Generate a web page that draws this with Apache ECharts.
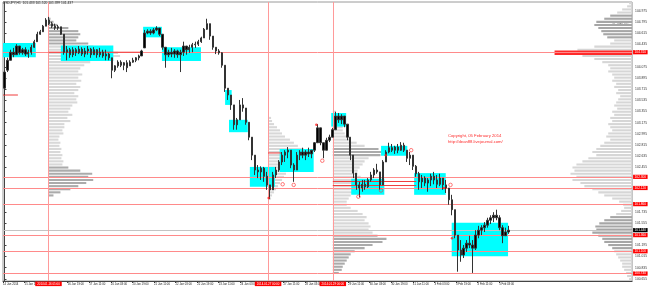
<!DOCTYPE html>
<html><head><meta charset="utf-8">
<script src="https://cdn.jsdelivr.net/npm/echarts@6.0.0/dist/echarts.min.js"></script>
<style>html,body{margin:0;padding:0;background:#fff}#c{width:650px;height:287px}</style>
</head><body><div id="c"></div>
<script>
// ---- candles (open, close, low, high), one bar ~2.2h, USDJPY ----
const week1 = [
[103.73,103.99,103.62,104.02],[104.02,104.18,103.99,104.22],[104.18,104.31,104.18,104.35],[104.31,104.27,104.23,104.38],
[104.27,104.41,104.27,104.44],[104.41,104.30,104.27,104.41],[104.30,104.35,104.27,104.38],[104.35,104.28,104.25,104.39],
[104.28,104.31,104.22,104.35],[104.31,104.39,104.27,104.43],[104.39,104.48,104.38,104.51],[104.48,104.60,104.48,104.64],
[104.60,104.64,104.59,104.67],[104.64,104.73,104.64,104.75],[104.73,104.83,104.73,104.86],[104.83,104.77,104.75,104.88],
[104.77,104.73,104.70,104.80],[104.73,104.70,104.67,104.77],[104.70,104.72,104.67,104.75],[104.72,104.60,104.59,104.72],
[104.60,104.31,104.27,104.60],[104.31,104.35,104.18,104.41],[104.35,104.27,104.22,104.38],[104.27,104.35,104.23,104.39],
[104.35,104.30,104.25,104.38],[104.30,104.36,104.28,104.41],[104.36,104.28,104.25,104.39],[104.28,104.33,104.23,104.38],
[104.33,104.36,104.27,104.41],[104.36,104.27,104.22,104.38],[104.27,104.35,104.27,104.39],[104.35,104.27,104.22,104.36],
[104.27,104.31,104.23,104.38],[104.31,104.25,104.22,104.35],[104.25,104.28,104.18,104.35]
];
const week2 = [
[104.28,104.22,104.18,104.30],[104.22,104.02,103.89,104.22],[104.02,104.09,103.99,104.10],[104.09,104.15,104.06,104.18],
[104.15,104.10,104.07,104.18],[104.10,104.14,104.02,104.15],[104.14,104.06,103.99,104.18],[104.09,104.15,104.09,104.18],
[104.15,104.18,104.14,104.22],[104.18,104.22,104.15,104.23],[104.22,104.25,104.18,104.27],[104.25,104.33,104.25,104.35],
[104.38,104.62,104.38,104.67],[104.62,104.65,104.60,104.68],[104.65,104.62,104.59,104.68],[104.62,104.67,104.60,104.70],
[104.67,104.70,104.65,104.73],[104.70,104.60,104.57,104.70],[104.60,104.39,104.35,104.60],[104.39,104.27,104.06,104.39],
[104.27,104.31,104.23,104.35],[104.31,104.28,104.23,104.38],[104.28,104.33,104.22,104.36],[104.33,104.27,104.22,104.35],
[104.27,104.31,103.99,104.35],[104.31,104.41,104.25,104.48],[104.41,104.35,104.27,104.41],[104.35,104.39,104.30,104.43],
[104.39,104.43,104.31,104.46],[104.43,104.44,104.38,104.48],[104.44,104.48,104.41,104.51],[104.48,104.54,104.46,104.56],
[104.54,104.68,104.54,104.70],[104.68,104.77,104.67,104.85],[104.77,104.57,104.51,104.77],[104.57,104.39,104.35,104.57],
[104.39,104.33,104.28,104.39],[104.33,104.30,104.27,104.36],[104.30,104.10,104.06,104.31],[104.10,103.73,103.67,104.10],
[103.73,103.62,103.54,103.73],[103.62,103.46,103.38,103.62],[103.46,103.14,103.06,103.46],[103.14,103.22,103.06,103.25],
[103.22,103.46,103.22,103.54],[103.46,103.41,103.35,103.57],[103.41,103.18,103.14,103.41],[103.18,102.94,102.89,103.18],
[102.94,102.65,102.57,102.94],[102.65,102.41,102.33,102.65],[102.41,102.38,102.28,102.49],[102.38,102.44,102.25,102.47],
[102.44,102.31,102.22,102.46],[102.31,102.17,102.09,102.38]
];
const week3 = [
[102.17,102.09,101.94,102.17],[102.09,102.33,102.09,102.38],[102.33,102.41,102.28,102.46],[102.41,102.54,102.38,102.57],
[102.54,102.65,102.49,102.70],[102.65,102.70,102.54,102.73],[102.70,102.73,102.60,102.78],[102.73,102.49,102.44,102.73],
[102.49,102.41,102.22,102.52],[102.41,102.65,102.41,102.70],[102.65,102.70,102.57,102.73],[102.70,102.65,102.60,102.77],
[102.65,102.70,102.57,102.73],[102.70,102.67,102.62,102.77],[102.67,102.73,102.60,102.73],[102.73,102.85,102.70,102.86],
[102.85,103.09,102.85,103.15],[103.09,102.85,102.81,103.09],[102.85,102.73,102.60,102.85],[102.73,102.89,102.73,102.93],
[102.89,102.94,102.86,102.98],[102.94,103.06,102.94,103.09],[103.06,103.28,103.06,103.35],[103.28,103.22,103.17,103.33],
[103.22,103.28,103.15,103.31],[103.28,103.15,103.10,103.28],[103.15,102.94,102.89,103.15],[102.94,102.65,102.57,102.94],
[102.65,102.36,102.28,102.65],[102.36,102.17,102.09,102.36],[102.17,102.12,101.97,102.22],[102.12,102.18,102.06,102.25],
[102.18,102.14,102.09,102.25],[102.14,102.25,102.12,102.28],[102.25,102.33,102.22,102.38],[102.33,102.41,102.28,102.44],
[102.41,102.38,102.35,102.51],[102.38,102.17,102.09,102.38],[102.17,102.54,102.17,102.57],[102.54,102.70,102.54,102.73],
[102.70,102.77,102.68,102.85],[102.77,102.73,102.70,102.83],[102.73,102.78,102.67,102.80],[102.78,102.73,102.68,102.83],
[102.73,102.81,102.72,102.86],[102.81,102.73,102.70,102.85],[102.73,102.60,102.54,102.73],[102.60,102.65,102.49,102.70],
[102.65,102.47,102.41,102.65],[102.47,102.35,102.30,102.49],[102.35,102.22,102.09,102.38],[102.22,102.28,102.12,102.33],
[102.28,102.20,102.15,102.31],[102.20,102.25,102.06,102.28]
];
const week4 = [
[102.25,102.31,102.15,102.35],[102.31,102.25,102.18,102.38],[102.25,102.18,102.12,102.33],[102.18,102.28,102.15,102.35],
[102.28,102.17,102.09,102.28],[102.17,102.12,102.04,102.25],[102.12,101.93,101.85,102.12],[101.93,101.77,101.68,102.01],
[101.77,101.36,101.31,101.77],[101.36,101.12,100.77,101.36],[101.12,101.04,100.93,101.28],[101.04,101.15,100.99,101.20],
[101.15,101.23,101.09,101.28],[101.23,101.20,101.15,101.35],[101.20,101.15,100.75,101.28],[101.15,101.36,101.12,101.44],
[101.36,101.44,101.31,101.51],[101.44,101.48,101.36,101.52],[101.48,101.52,101.41,101.57],[101.52,101.60,101.48,101.64],
[101.60,101.64,101.54,101.68],[101.64,101.68,101.57,101.73],[101.68,101.64,101.60,101.77],[101.64,101.48,101.44,101.68],
[101.48,101.35,101.23,101.52],[101.35,101.41,101.35,101.48],[101.41,101.44,101.38,101.51]
];
const barCount = 211;               // categories on the time axis (incl. empty right margin)
const barsPerTimeLabel = 7.235;     // 16 hours per time label

// ---- axis tick labels ----
const priceTicks = [104.975,104.795,104.615,104.435,104.255,104.075,103.895,103.715,103.535,103.355,103.175,102.995,
  102.815,102.635,102.455,102.275,102.095,101.915,101.735,101.555,101.375,101.195,101.015,100.835,100.655];
const timeLabels = ['14 Jan 2014','15 Jan 11:00','16 Jan 03:00','16 Jan 19:00','17 Jan 11:00','20 Jan 03:00','20 Jan 19:00',
  '21 Jan 11:00','22 Jan 03:00','22 Jan 19:00','23 Jan 11:00','24 Jan 03:00','24 Jan 19:00','27 Jan 11:00','28 Jan 03:00',
  '28 Jan 19:00','29 Jan 11:00','30 Jan 03:00','30 Jan 19:00','31 Jan 11:00','3 Feb 03:00','3 Feb 19:00','4 Feb 11:00','5 Feb 03:00'];
const coveredTimeLabels = [2, 12, 15];

// ---- horizontal levels ----
const levels = [104.310, 102.303, 102.117, 101.857, 101.360, 101.100, 100.740];
const lastPrice = 101.437;

// ---- session (profile) starts: bar position and label ----
const sessionBars = [14.76, 88.41, 110.12];
const sessionLabels = ['2014.01.16 05:00', '2014.01.27 00:00', '2014.01.29 00:00'];

// ---- cyan zones: [fromBar, toBar, topPrice, bottomPrice] ----
const zones = [
 [-0.5,10.5,104.46,104.23],[18.9,36.5,104.42,104.17],[46.5,52.8,104.72,104.55],[52.8,65.9,104.39,104.17],
 [74.0,76.2,103.70,103.46],[75.3,81.6,103.22,103.02],[82.3,90.7,102.46,102.14],[92.3,103.7,102.75,102.38],
 [109.6,114.6,103.33,103.11],[116.3,127.4,102.27,102.01],[126.3,135.1,102.80,102.64],[137.4,148.0,102.36,102.01],
 [150.0,168.9,101.56,101.02]
];
// ---- short red segments: [fromBar, toBar, price] ----
const segments = [[14.76,45.6,104.31],[88.41,93.0,102.685],[110.12,138.1,102.225],[110.12,138.1,102.16],[-0.5,4.5,103.62]];
// ---- markers ----
const swingMarks = [[93.3,102.18],[97.0,102.17],[106.6,102.56],[118.7,101.98],[126.3,102.08],[136.4,102.73],[149.6,102.17]];
const signalDots = [[104.6,103.14],[88.6,101.96],[127.9,102.65],[147.4,102.12],[150.1,101.31]];

// ---- volume profiles (bin 0.05, volumes top -> bottom) ----
const profileStep = 0.05;
const prof1Top = 104.85, prof1Vols = [2,5,9,20,30,32,30,28,40,45,60,70,72,50,42,36,32,30,34,30,33,28,32,30,26,30,28,29,24,22,
  20,24,19,22,16,16,14,15,11,10,12,11,13,12,14,13,15,14,20,32,44,40,45,38,30,22,12,5];
const prof1Dark = [[104.85,104.45],[102.45,102.00]];
const prof2Top = 103.25, prof2Vols = [3,4,6,9,12,14,17,22,26,30,36,43,40,33,28,24,22,20,18,16,14,12,10,8,6,4,3];
const prof2Dark = [];
const prof3Top = 103.35, prof3Vols = [3,5,6,8,8,10,10,12,14,18,24,32,46,60,48,36,32,30,27,25,25,28,30,29,25,20,22,18,16,14,
  14,18,25,30,34,32,36,38,36,40,45,54,50,40,32,22,18,16,14,12,10,9,6];
const prof3Dark = [[102.75,102.65],[101.35,100.75]];
const prof4Top = 105.10, prof4Vols = [3,5,10,15,22,28,36,38,34,31,29,25,18,22,38,55,78,50,38,30,24,22,24,20,18,20,16,18,14,16,
  12,14,16,18,15,20,18,22,20,24,22,20,24,26,22,28,32,36,40,36,44,50,56,60,58,62,56,60,52,48,40,34,28,20,13,9,8,11,16,22,
  28,33,37,36,40,34,30,28,24,20,18,16,14,12,10,10,8,6,5,3];
const prof4Dark = [[104.90,104.55],[101.65,101.15]];
const prof4Poc = 104.30;
const volPerBar = 3;

const candles = week1.concat(week2, week3, week4);
const FONT = 'Liberation Sans, Arial, sans-serif';

function profileSeries(anchor, dir, top, vols, dark, poc, light, shade) {
  const rows = vols.map((v, i) => {
    const p = +(top - i * profileStep).toFixed(2);
    const d = dark.some(r => p <= r[0] + 1e-6 && p >= r[1] - 1e-6) ? 1 : 0;
    const isPoc = (poc != null && Math.abs(p - poc) < 1e-6) ? 1 : 0;
    return [anchor, anchor + dir * v / volPerBar, p, d, isPoc];
  });
  return {
    type: 'custom', xAxisIndex: 1, yAxisIndex: 0, z: 1, silent: true, data: rows,
    encode: { x: [0, 1], y: 2 },
    renderItem: (params, api) => {
      const x0 = api.value(0), x1 = api.value(1), p = api.value(2), d = api.value(3), pc = api.value(4);
      const h = pc ? 0.036 : 0.017;
      const a = api.coord([x0, p + h]), b = api.coord([x1, p - h]);
      return { type: 'rect', shape: { x: Math.min(a[0], b[0]), y: a[1], width: Math.abs(b[0] - a[0]), height: b[1] - a[1] },
        style: { fill: pc ? '#ff2a2a' : (d ? shade : light) } };
    }
  };
}

const visibleTicks = priceTicks.filter(t => levels.concat([lastPrice]).every(l => Math.abs(l - t) > 0.07));
const timePos = [], timeText = {};
timeLabels.forEach((t, k) => {
  if (coveredTimeLabels.includes(k)) return;
  const pos = +(k * barsPerTimeLabel - 0.5).toFixed(3);
  timePos.push(pos); timeText[pos.toFixed(3)] = t;
});

const chart = echarts.init(document.getElementById('c'), null, { renderer: 'canvas' });
const redLbl = { show: true, position: 'end', distance: 1, formatter: p => Number(p.value).toFixed(3),
  backgroundColor: '#ff0000', color: '#fff', fontSize: 3.2, fontFamily: FONT, padding: [0.8, 1.5, 0.4, 1.5] };

chart.setOption({
  animation: false,
  backgroundColor: '#ffffff',
  grid: { left: 2, right: 16, top: 2, bottom: 6, show: true, borderColor: '#9a9a9a', borderWidth: 1 },
  xAxis: [
    { type: 'category', data: Array.from({ length: barCount }, (_, i) => i), boundaryGap: true,
      axisLine: { show: true, lineStyle: { color: '#444', width: 1 } }, axisTick: { show: false }, axisLabel: { show: false }, splitLine: { show: false } },
    { type: 'value', min: -0.5, max: barCount - 0.5, position: 'bottom', axisLine: { show: false }, splitLine: { show: false },
      axisTick: { show: true, customValues: timePos, length: 2, lineStyle: { color: '#444' } },
      axisLabel: { show: true, customValues: timePos, formatter: v => timeText[Number(v).toFixed(3)] || '', fontSize: 2.8,
        fontFamily: FONT, color: '#222', align: 'left', margin: 1.5, showMinLabel: true, showMaxLabel: true } }
  ],
  yAxis: [{ type: 'value', position: 'right', min: 100.62, max: 105.12, splitLine: { show: false },
    axisLine: { show: true, lineStyle: { color: '#444' } },
    axisTick: { show: true, customValues: visibleTicks, length: 2, lineStyle: { color: '#444' } },
    axisLabel: { customValues: visibleTicks, formatter: v => Number(v).toFixed(3), fontSize: 3.3, fontFamily: FONT, color: '#333', margin: 3 } }],
  graphic: [
    { type: 'text', left: 3, top: 2, silent: true, style: { text: 'USDJPY,H1  101.433 101.520 101.399 101.437', font: '3.3px ' + FONT, fill: '#222' } },
    { type: 'text', left: 448, top: 133.5, silent: true, style: { text: 'Copyright, 05 February 2014', font: '4.2px ' + FONT, fill: '#ff2a2a' } },
    { type: 'text', left: 448, top: 140.2, silent: true, style: { text: 'http://dean88.livejournal.com/', font: '4.2px ' + FONT, fill: '#ff2a2a' } },
    { type: 'text', left: 612, top: 21.5, silent: true, style: { text: 'VP (All) 1H', font: '3.3px ' + FONT, fill: '#666' } }
  ],
  series: [
    profileSeries(sessionBars[0], 1, prof1Top, prof1Vols, prof1Dark, null, '#d8d8d8', '#ababab'),
    profileSeries(sessionBars[1], 1, prof2Top, prof2Vols, prof2Dark, null, '#d8d8d8', '#ababab'),
    profileSeries(sessionBars[2], 1, prof3Top, prof3Vols, prof3Dark, null, '#d8d8d8', '#ababab'),
    profileSeries(barCount - 0.5, -1, prof4Top, prof4Vols, prof4Dark, prof4Poc, '#d6d6d6', '#a6a6a6'),
    { type: 'custom', xAxisIndex: 1, yAxisIndex: 0, z: 2, silent: true, data: zones, encode: { x: [0, 1], y: [2, 3] },
      renderItem: (params, api) => {
        const a = api.coord([api.value(0), api.value(2)]), b = api.coord([api.value(1), api.value(3)]);
        return { type: 'rect', shape: { x: a[0], y: a[1], width: b[0] - a[0], height: b[1] - a[1] }, style: { fill: '#00ffff' } };
      } },
    { type: 'custom', xAxisIndex: 1, yAxisIndex: 0, z: 3, silent: true, data: segments, encode: { x: [0, 1], y: 2 },
      renderItem: (params, api) => {
        const a = api.coord([api.value(0), api.value(2)]), b = api.coord([api.value(1), api.value(2)]);
        return { type: 'line', shape: { x1: a[0], y1: a[1], x2: b[0], y2: b[1] }, style: { stroke: '#f03c3c', lineWidth: 1 } };
      },
      markLine: { silent: true, symbol: ['none', 'none'], animation: false, z: 3,
        lineStyle: { color: '#ff8a8a', width: 1, type: 'solid' },
        data: levels.map(v => ({ yAxis: v, label: redLbl }))
          .concat([{ yAxis: lastPrice, lineStyle: { color: '#c4c4c4' }, label: Object.assign({}, redLbl, { backgroundColor: '#000' }) }])
          .concat(sessionBars.map((b, i) => ({ xAxis: b, lineStyle: { color: '#ff9a9a' },
            label: { show: true, position: 'start', distance: 0.5, formatter: sessionLabels[i], backgroundColor: '#ff0000',
              color: '#fff', fontSize: 2.9, fontFamily: FONT, padding: [1, 2, 0.6, 2] } }))) } },
    { type: 'candlestick', xAxisIndex: 0, yAxisIndex: 0, z: 5, silent: true, data: candles, barWidth: 1.8,
      itemStyle: { color: '#000', color0: '#000', borderColor: '#333', borderColor0: '#333', borderWidth: 1 } },
    { type: 'scatter', xAxisIndex: 1, yAxisIndex: 0, z: 6, silent: true, data: swingMarks, symbol: 'circle', symbolSize: 3.5,
      itemStyle: { color: 'rgba(255,255,255,0)', borderColor: '#ff3030', borderWidth: 0.8 } },
    { type: 'scatter', xAxisIndex: 1, yAxisIndex: 0, z: 6, silent: true, data: signalDots, symbol: 'circle', symbolSize: 2.5,
      itemStyle: { color: '#ff2020' } }
  ]
});
</script></body></html>
